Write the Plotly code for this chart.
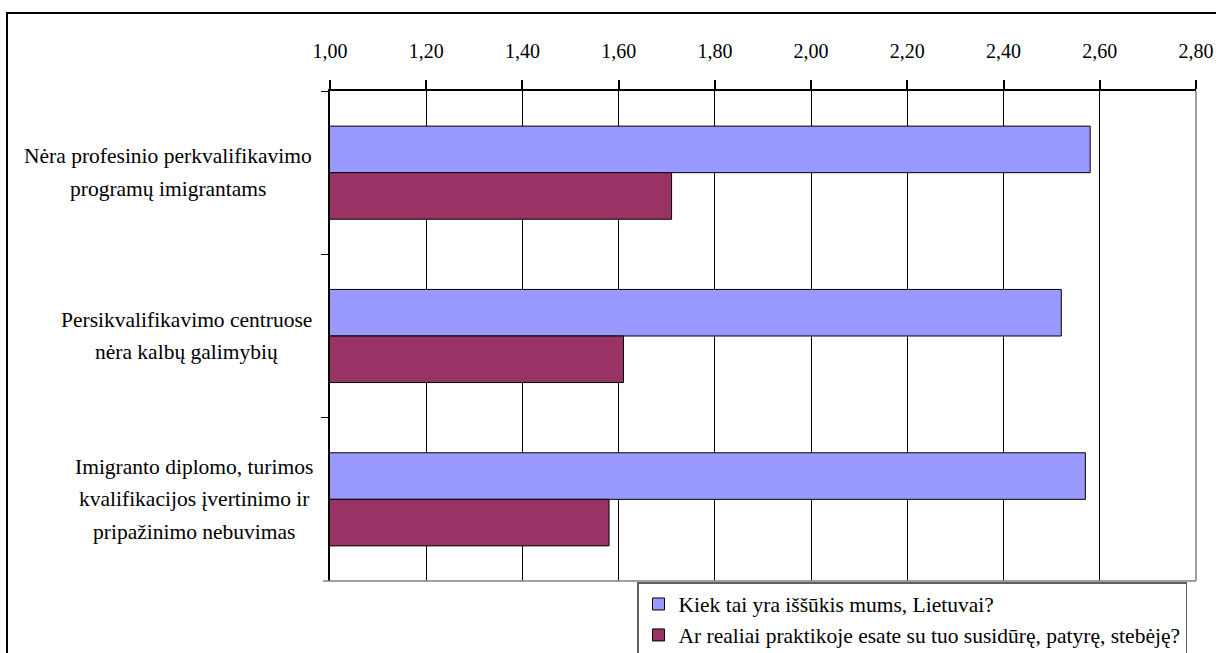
import plotly.graph_objects as go

categories = [
    "Nėra profesinio perkvalifikavimo programų imigrantams",
    "Persikvalifikavimo centruose nėra kalbų galimybių",
    "Imigranto diplomo, turimos kvalifikacijos įvertinimo ir pripažinimo nebuvimas",
]
category_lines = [
    ["Nėra profesinio perkvalifikavimo", "programų imigrantams"],
    ["Persikvalifikavimo centruose", "nėra kalbų galimybių"],
    ["Imigranto diplomo, turimos", "kvalifikacijos įvertinimo ir", "pripažinimo nebuvimas"],
]
series_names = [
    "Kiek tai yra iššūkis mums, Lietuvai?",
    "Ar realiai praktikoje esate su tuo susidūrę, patyrę, stebėję?",
]
challenge_values = [2.58, 2.52, 2.57]
experience_values = [1.71, 1.61, 1.58]
x_ticks = [1.0, 1.2, 1.4, 1.6, 1.8, 2.0, 2.2, 2.4, 2.6, 2.8]

W, H = 1216, 653
L, R, T, B = 330, 1196, 91, 581
FONT = "'Times New Roman', 'Liberation Serif', Tinos, 'DejaVu Serif', serif"
FS_TICK = 20
FS_LABEL = 21.5
FS_LEGEND = 21.5

def px_x(p):
    return (p - L) / (R - L)

def px_y(p):
    return (B - p) / (B - T)

fig = go.Figure()
fig.add_trace(go.Bar(
    y=categories, x=challenge_values, orientation="h", name=series_names[0],
    marker=dict(color="#9999FF", line=dict(color="#000000", width=1)),
))
fig.add_trace(go.Bar(
    y=categories, x=experience_values, orientation="h", name=series_names[1],
    marker=dict(color="#993366", line=dict(color="#000000", width=1)),
))

block_centers = [168, 186, 194]
line_gap = 32.5
annotations = []
for cat, lines, cx in zip(categories, category_lines, block_centers):
    n = len(lines)
    for i, ln in enumerate(lines):
        annotations.append(dict(
            text=ln, xref="paper", yref="y", x=px_x(cx), y=cat,
            xanchor="center", yanchor="middle",
            yshift=-(i - (n - 1) / 2) * line_gap,
            showarrow=False, font=dict(family=FONT, size=FS_LABEL, color="#000000"),
        ))

shapes = [
    # outer chart border
    dict(type="rect", xref="paper", yref="paper",
         x0=px_x(7), x1=px_x(1225), y0=px_y(665), y1=px_y(13),
         line=dict(color="#000000", width=2), fillcolor="rgba(0,0,0,0)", layer="below"),
    # plot area right and bottom border (gray)
    dict(type="line", xref="paper", yref="paper", x0=1, x1=1, y0=0, y1=1,
         line=dict(color="#808080", width=1.5)),
    dict(type="line", xref="paper", yref="paper", x0=px_x(323), x1=1, y0=0, y1=0,
         line=dict(color="#808080", width=1.5)),
]

fig.update_layout(
    width=W, height=H,
    margin=dict(l=L, r=W - R, t=T, b=H - B, autoexpand=False),
    paper_bgcolor="white", plot_bgcolor="white",
    separators=",.",
    barmode="group", bargap=0.43, bargroupgap=0,
    font=dict(family=FONT, size=FS_TICK, color="#000000"),
    xaxis=dict(
        side="top", range=[1.0, 2.8], tickvals=x_ticks, tickformat=".2f",
        showgrid=True, gridcolor="#000000", gridwidth=1,
        showline=True, linecolor="#000000", linewidth=1.5,
        ticks="outside", ticklen=9, tickcolor="#000000", tickwidth=1.5,
        ticklabelstandoff=14, zeroline=False, automargin=False,
        tickfont=dict(family=FONT, size=FS_TICK, color="#000000"),
    ),
    yaxis=dict(
        autorange="reversed", showticklabels=False,
        showline=True, linecolor="#000000", linewidth=1.5,
        ticks="outside", ticklen=7, tickcolor="#000000", tickwidth=1,
        tickson="boundaries", showgrid=False, zeroline=False, automargin=False,
    ),
    legend=dict(
        x=px_x(637), y=px_y(582), xanchor="left", yanchor="top",
        bordercolor="#606060", borderwidth=1.5, bgcolor="white",
        font=dict(family=FONT, size=FS_LEGEND, color="#000000"),
        traceorder="normal", tracegroupgap=0,
    ),
    showlegend=True,
    annotations=annotations,
    shapes=shapes,
)

fig.write_html(
    "out.html",
    config={"displayModeBar": False},
    post_script="document.body.style.margin='0px';document.body.style.padding='0px';",
)
